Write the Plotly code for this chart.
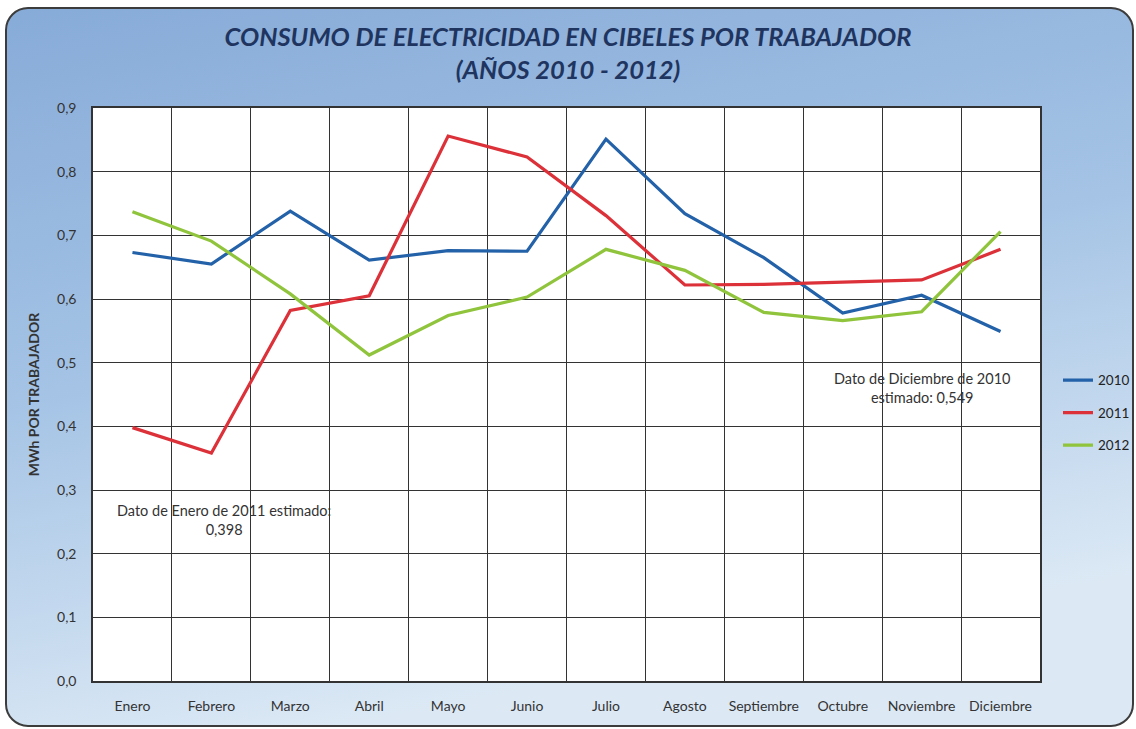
import base64
import plotly.graph_objects as go

meses = ["Enero", "Febrero", "Marzo", "Abril", "Mayo", "Junio", "Julio",
         "Agosto", "Septiembre", "Octubre", "Noviembre", "Diciembre"]

consumo_2010 = [0.673, 0.655, 0.738, 0.661, 0.676, 0.675, 0.851,
                0.734, 0.665, 0.578, 0.606, 0.549]
consumo_2011 = [0.398, 0.358, 0.582, 0.605, 0.856, 0.823, 0.731,
                0.622, 0.623, 0.626, 0.630, 0.678]
consumo_2012 = [0.737, 0.691, 0.608, 0.512, 0.574, 0.603, 0.678,
                0.645, 0.579, 0.566, 0.580, 0.706]

W, H = 1136, 729
ML, MR, MT, MB = 93, 96, 108, 48
PW, PH = W - ML - MR, H - MT - MB

# fondo con degradado azul y borde redondeado
svg = f'''<svg xmlns="http://www.w3.org/2000/svg" width="{W}" height="{H}" viewBox="0 0 {W} {H}">
<defs><linearGradient id="g" x1="0" y1="0" x2="0.3" y2="1">
<stop offset="0" stop-color="#87abd8"/><stop offset="0.5" stop-color="#a4c3e5"/>
<stop offset="1" stop-color="#dce9f5"/></linearGradient></defs>
<rect x="0" y="0" width="{W}" height="{H}" fill="white"/>
<rect x="6" y="8" width="{W - 9}" height="{H - 11}" rx="22" fill="url(#g)" stroke="#3c3c3c" stroke-width="2"/>
</svg>'''
fondo = "data:image/svg+xml;base64," + base64.b64encode(svg.encode()).decode()

fig = go.Figure()
series = [("2010", consumo_2010, "#2361a8"),
          ("2011", consumo_2011, "#dc3139"),
          ("2012", consumo_2012, "#8fc43c")]
for nombre, valores, color in series:
    fig.add_trace(go.Scatter(x=meses, y=valores, name=nombre, mode="lines",
                             line=dict(color=color, width=3.2),
                             legendgroup=nombre))

fig.add_layout_image(dict(source=fondo, xref="paper", yref="paper",
                          x=-ML / PW, y=1 + MT / PH, sizex=W / PW, sizey=H / PH,
                          xanchor="left", yanchor="top", sizing="stretch",
                          layer="below"))
fig.add_shape(type="rect", xref="paper", yref="paper", x0=0, x1=1, y0=0, y1=1,
              fillcolor="white", line=dict(width=0), layer="below")

fig.add_annotation(x=10, y=0.461, xref="x", yref="y", showarrow=False,
                   text="Dato de Diciembre de 2010<br>estimado: 0,549",
                   font=dict(size=14.5, color="#333333"))
fig.add_annotation(x=1.16, y=0.253, xref="x", yref="y", showarrow=False,
                   text="Dato de Enero de 2011 estimado:<br>0,398",
                   font=dict(size=14.5, color="#333333"))

fig.update_layout(
    width=W, height=H,
    margin=dict(l=ML, r=MR, t=MT, b=MB, autoexpand=False),
    paper_bgcolor="white", plot_bgcolor="white",
    separators=", ",
    font=dict(family="Lato, Calibri, sans-serif", size=14, color="#333333"),
    title=dict(text="<b><i>CONSUMO DE ELECTRICIDAD EN CIBELES POR TRABAJADOR<br>(AÑOS 2010 - 2012)</i></b>",
               x=0.5, xanchor="center", y=1 - 46 / H, yanchor="middle",
               font=dict(family="Lato, Calibri, sans-serif", size=25.5, color="#1f3560")),
    legend=dict(x=1.019, xanchor="left", y=0.468, yanchor="middle",
                bgcolor="rgba(0,0,0,0)", tracegroupgap=12,
                font=dict(size=13.5, color="#222222")),
    xaxis=dict(range=[-0.5, 11.5], tickson="boundaries",
               showgrid=True, gridcolor="#333333", gridwidth=1,
               showline=True, linecolor="#333333", linewidth=1.5, mirror=True,
               ticks="", ticklabelstandoff=11,
               tickfont=dict(size=14, color="#333333")),
    yaxis=dict(range=[0, 0.9], dtick=0.1, tickformat=".1f",
               showgrid=True, gridcolor="#333333", gridwidth=1,
               showline=True, linecolor="#333333", linewidth=1.5, mirror=True,
               zeroline=False, ticks="", ticklabelstandoff=12,
               tickfont=dict(size=14, color="#333333"),
               title=dict(text="<b>MWh POR TRABAJADOR</b>", standoff=14,
                          font=dict(size=14, color="#333333"))),
)

fig.write_html("out.html", config={"displayModeBar": False},
               post_script="document.body.style.margin='0';")
